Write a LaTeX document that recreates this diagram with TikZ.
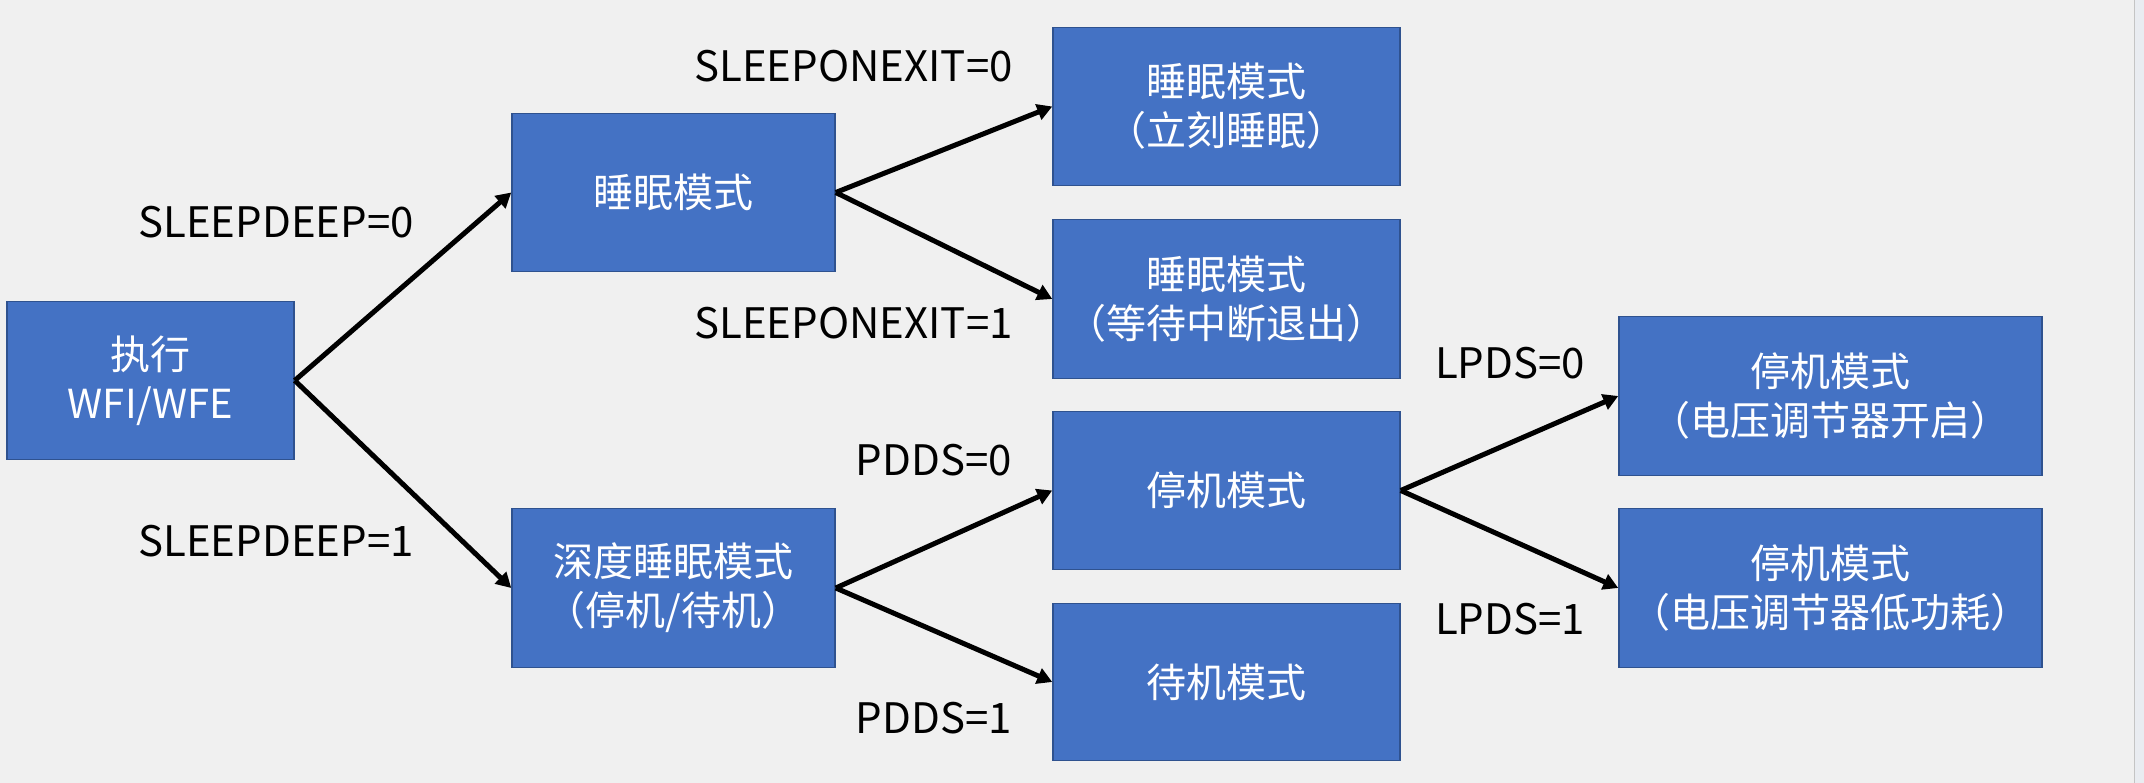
\documentclass[tikz,border=0pt]{standalone}
\usepackage{fontspec}
\setmainfont{Noto Sans CJK SC}
\usetikzlibrary{arrows.meta}
\definecolor{bg}{HTML}{F0F0F0}
\definecolor{stripcol}{HTML}{E9ECF1}
\definecolor{edgegray}{HTML}{C4C4C4}
\definecolor{boxfill}{HTML}{4472C4}
\definecolor{boxedge}{HTML}{2F528F}
\begin{document}
\begin{tikzpicture}[x=1pt,y=-1pt,
  modebox/.style={draw=boxedge, line width=1.5pt, fill=boxfill, text=white,
    font=\fontsize{40}{49}\selectfont, align=center, inner sep=0pt},
  lbl/.style={font=\fontsize{42}{50}\selectfont, text=black, inner sep=0pt},
  arr/.style={line width=5pt, -{Triangle[length=15pt,width=16pt]}}]
\fill[bg] (0,0) rectangle (2144,782);
\fill[stripcol] (2134,0) rectangle (2144,782);
\draw[edgegray, line width=1pt] (2134,0) -- (2134,782);
\useasboundingbox (0,0) rectangle (2144,782);

\node[modebox, minimum width=287pt, minimum height=158pt] (b1) at (150.5,380) {执行\\WFI/WFE};
\node[modebox, minimum width=323pt, minimum height=158pt] (b2) at (673.5,192) {睡眠模式};
\node[modebox, minimum width=347pt, minimum height=158pt] (b3) at (1226.5,106) {睡眠模式\\（立刻睡眠）};
\node[modebox, minimum width=347pt, minimum height=159pt] (b4) at (1226.5,298.5) {睡眠模式\\（等待中断退出）};
\node[modebox, minimum width=323pt, minimum height=159pt] (b5) at (673.5,587.5) {深度睡眠模式\\（停机/待机）};
\node[modebox, minimum width=347pt, minimum height=158pt] (b6) at (1226.5,490) {停机模式};
\node[modebox, minimum width=347pt, minimum height=157pt] (b7) at (1226.5,681.5) {待机模式};
\node[modebox, minimum width=423pt, minimum height=159pt] (b8) at (1830.5,395.5) {停机模式\\（电压调节器开启）};
\node[modebox, minimum width=423pt, minimum height=159pt] (b9) at (1830.5,587.5) {停机模式\\（电压调节器低功耗）};

\node[lbl] (l1) at (276,222) {SLEEPDEEP=0};
\node[lbl] (l2) at (276,541) {SLEEPDEEP=1};
\node[lbl] (l3) at (853.5,66) {SLEEPONEXIT=0};
\node[lbl] (l4) at (853.5,323) {SLEEPONEXIT=1};
\node[lbl] (l5) at (934,460) {PDDS=0};
\node[lbl] (l6) at (934,718) {PDDS=1};
\node[lbl] (l7) at (1510,363) {LPDS=0};
\node[lbl] (l8) at (1510,619) {LPDS=1};

\draw[arr] (b1.east) -- (b2.west);
\draw[arr] (b1.east) -- (b5.west);
\draw[arr] (b2.east) -- (b3.west);
\draw[arr] (b2.east) -- (b4.west);
\draw[arr] (b5.east) -- (b6.west);
\draw[arr] (b5.east) -- (b7.west);
\draw[arr] (b6.east) -- (b8.west);
\draw[arr] (b6.east) -- (b9.west);
\end{tikzpicture}
\end{document}
